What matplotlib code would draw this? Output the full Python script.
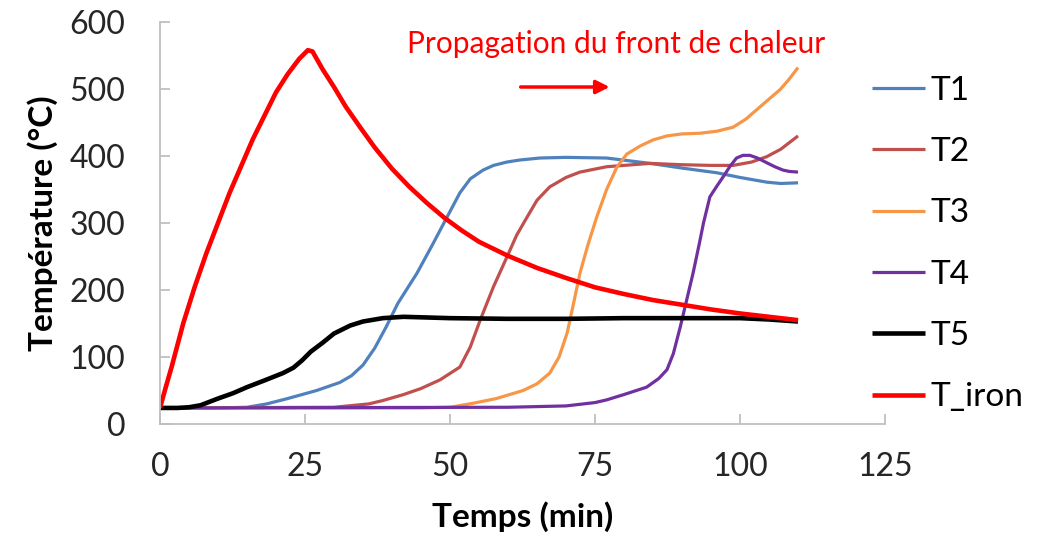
import matplotlib
matplotlib.use("Agg")
import matplotlib.pyplot as plt

plt.rcParams["font.family"] = ["Lato", "DejaVu Sans"]

# Values (time in min, temperature in degC)
T_IRON_T = [0, 1, 2, 4, 6, 8, 10, 12, 14, 16, 18, 20, 22, 24, 25.5, 26.3, 28, 30, 32,
            34.5, 37, 40, 43, 46, 49, 52, 55, 60, 65, 70, 75, 80, 85, 90, 95, 100, 105, 110]
T_IRON = [24, 55, 85, 150, 205, 255, 300, 345, 385, 425, 460, 495, 522, 545, 558, 556, 530,
          503, 474, 443, 413, 381, 354, 330, 308, 289, 272, 251, 233, 218, 204, 194, 185,
          178, 171, 165, 160, 155]

T5_T = [0, 3, 5, 7, 10, 12.6, 15, 18, 21.2, 23, 24.5, 26, 28, 30, 32.8, 35, 38.4, 42, 50,
        60, 70, 80, 90, 100, 105, 110]
T5 = [24, 24, 25, 28, 38, 46, 55, 65, 76, 84, 95, 108, 121, 135, 147, 153, 158, 160, 158,
      157, 157, 158, 158, 158, 156, 153]

T1_T = [0, 10, 15, 18.4, 22, 27, 31, 33, 35, 37, 39, 41, 44.3, 47, 49.5, 51.7, 53.5, 55.7,
        57.5, 59.8, 62, 65.5, 70, 77, 84.5, 90, 96, 100, 104.6, 107, 110]
T1 = [24, 24, 25, 30, 38, 50, 62, 72, 88, 113, 145, 180, 225, 268, 309, 345, 366, 379, 386,
      391, 394, 397, 398, 397, 389, 382, 375, 368, 361, 359, 360]

T2_T = [0, 30, 36, 38.4, 42, 45, 48.3, 51.7, 53.5, 55.2, 57.5, 59.8, 61.5, 63.3, 65, 67.2,
        70, 72.4, 77, 84.5, 90, 95, 98.8, 102, 104.6, 107, 110]
T2 = [24, 25, 30, 35, 44, 53, 66, 85, 115, 155, 205, 249, 282, 309, 334, 354, 368, 376, 384,
      389, 387, 386, 386, 391, 399, 410, 430]

T3_T = [0, 45, 50, 54, 58, 62.6, 65, 67.2, 68.8, 70.2, 71.3, 72.4, 73.8, 75.3, 77, 78.8,
        80.5, 82.8, 85, 87.4, 90, 93.1, 96, 98.8, 101, 103.4, 105, 106.9, 108.5, 110]
T3 = [24, 24, 25, 31, 38, 50, 60, 76, 100, 136, 180, 225, 268, 309, 350, 384, 403, 415, 424,
      430, 433, 434, 437, 443, 455, 473, 485, 499, 515, 532]

T4_T = [0, 60, 70, 75, 77, 80, 83.9, 86, 87.4, 88.5, 89.7, 90.8, 91.9, 93, 93.7, 94.8, 96,
        97.1, 98.3, 99.4, 100.5, 101.7, 103, 104.6, 106, 107.4, 108.5, 110]
T4 = [24, 25, 27, 32, 36, 44, 55, 68, 81, 105, 145, 185, 225, 270, 300, 339, 355, 369, 385,
      397, 401, 401, 397, 390, 384, 379, 377, 376]

SERIES = [
    ("T1", T1_T, T1, "#4F81BD", 2.3),
    ("T2", T2_T, T2, "#C0504D", 2.3),
    ("T3", T3_T, T3, "#F79646", 2.3),
    ("T4", T4_T, T4, "#7030A0", 2.3),
    ("T5", T5_T, T5, "#000000", 3.3),
    ("T_iron", T_IRON_T, T_IRON, "#FF0000", 3.3),
]

fig = plt.figure(figsize=(10.56, 5.45), dpi=100)
ax = fig.add_axes([0.1515, 0.222, 0.6866, 0.7376])

for name, t, v, color, lw in SERIES:
    ax.plot(t, v, color=color, lw=lw, label=name, solid_capstyle="butt",
            solid_joinstyle="round")

ax.set_xlim(0, 125)
ax.set_ylim(0, 600)
ax.set_xticks([0, 25, 50, 75, 100, 125])
ax.set_yticks(range(0, 601, 100))

grey = "#BFBFBF"
ax.spines.right.set_visible(False)
ax.spines.top.set_visible(False)
for s in ("left", "bottom"):
    ax.spines[s].set_color(grey)
    ax.spines[s].set_linewidth(1.3)
ax.tick_params(axis="x", direction="in", length=7, width=1.3, color=grey,
               labelsize=23, labelcolor="#262626", pad=20)
ax.tick_params(axis="y", direction="in", length=7, width=1.3, color=grey,
               labelsize=23, labelcolor="#262626", pad=25)

ax.set_xlabel("Temps (min)", fontsize=24, fontweight="bold", labelpad=14)
ax.set_ylabel("Température (°C)", fontsize=24, fontweight="bold", labelpad=8)

# Heat front annotation
ax.text(78.6, 567, "Propagation du front de chaleur", color="#FF0000",
        fontsize=21.5, ha="center", va="center")
ax.annotate("", xy=(78, 503), xytext=(61.7, 503),
            arrowprops=dict(arrowstyle="-|>", color="#FF0000", lw=2.5,
                            mutation_scale=20))

fig.legend(loc="center left", bbox_to_anchor=(872 / 1056, 1 - 244 / 545),
           frameon=False, fontsize=24, handlelength=1.6, handletextpad=0.15,
           labelspacing=0.94, borderpad=0, borderaxespad=0)

fig.savefig("out.png", dpi=100)
